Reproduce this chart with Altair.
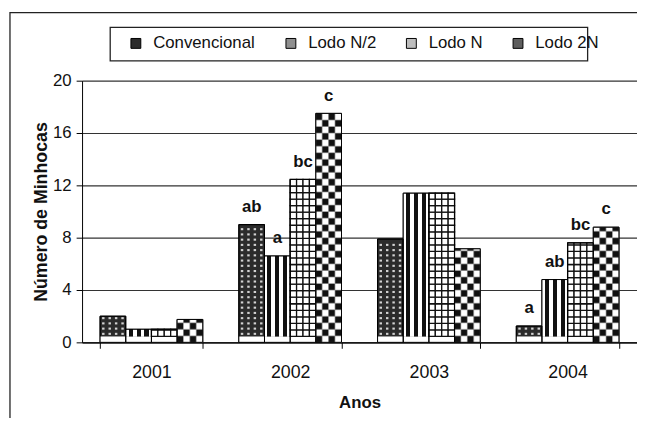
import altair as alt
import pandas as pd

# ---------------- data ----------------
years = ["2001", "2002", "2003", "2004"]
series = ["Convencional", "Lodo N/2", "Lodo N", "Lodo 2N"]
conv = [2.0, 9.0, 7.9, 1.25]
lodo_n2 = [1.0, 6.6, 11.4, 4.8]
lodo_n = [1.0, 12.45, 11.4, 7.6]
lodo_2n = [1.75, 17.5, 7.15, 8.8]
letters_conv = ["", "ab", "", "a"]
letters_n2 = ["", "a", "", "ab"]
letters_n = ["", "bc", "", "bc"]
letters_2n = ["", "c", "", "c"]
y_ticks = [0, 4, 8, 12, 16, 20]

# ---------------- styling constants ----------------
FONT = "Liberation Sans"
legend_grays = ["#2b2b2b", "#8f8f8f", "#bdbdbd", "#5e5e5e"]
bases = [0.45, 0.45, 0.45, 0.0]      # white strip at the foot of the patterned bars
cell_h = 0.5                          # pattern cell height (data units)
dot_h = 0.4
PLOT_W, PLOT_H = 562, 265
PAD_INNER, PAD_OUTER = 0.26, 0.13
GROUP_W = PLOT_W / len(years) * (1 - PAD_INNER)   # width of one year's bar group
BAR_W = GROUP_W / len(series)

values = [conv, lodo_n2, lodo_n, lodo_2n]
letters = [letters_conv, letters_n2, letters_n, letters_2n]

recs = []
for si, s in enumerate(series):
    for yi, yr in enumerate(years):
        recs.append(dict(year=yr, series=s, value=values[si][yi],
                         letter=letters[si][yi], base=bases[si], zero=0.0))
df = pd.DataFrame(recs)

sub_domain = [f"{s}-{c}" for s in range(4) for c in range(4)]


def cells(si, h, ncols):
    out = []
    base = bases[si]
    for yi, yr in enumerate(years):
        v = values[si][yi]
        k = 0
        while base + k * h < v - 1e-9:
            y0 = base + k * h
            y1 = min(base + (k + 1) * h, v)
            for c in range(ncols):
                out.append(dict(year=yr, sub=f"{si}-{c}", y0=y0, y1=y1,
                                dark=bool((k + c) % 2 == 0)))
            k += 1
    return pd.DataFrame(out)


def dots(si, h, ncols):
    out = []
    base = bases[si]
    for yi, yr in enumerate(years):
        v = values[si][yi]
        k = 0
        while True:
            yc = base + (k + 0.5) * h
            if yc + 0.08 > v - 0.05:
                break
            for c in range(ncols):
                out.append(dict(year=yr, dsub=f"{si}-{c}", y0=yc - 0.08, y1=yc + 0.08))
            k += 1
    return pd.DataFrame(out)


grid_df = cells(2, cell_h, 4)
check_df = cells(3, cell_h, 4)
dot_df = dots(0, dot_h, 4)

# ---------------- shared encodings ----------------
xscale = alt.Scale(domain=years, paddingInner=PAD_INNER, paddingOuter=PAD_OUTER)
xaxis = alt.Axis(title="Anos", labelAngle=0, tickBand="extent", tickSize=6,
                 labelPadding=16, labelFontSize=18, labelColor="#111",
                 titleFontSize=17, titleFontWeight="bold", titleColor="#111",
                 titleY=66, titleBaseline="alphabetic",
                 domainColor="black", domainWidth=1.2, tickColor="black", grid=False)
yscale = alt.Scale(domain=[0, 20], nice=False)
yaxis = alt.Axis(title="Número de Minhocas", values=y_ticks, tickSize=6, labelPadding=5,
                 labelFontSize=17, labelColor="#111",
                 titleFontSize=18, titleFontWeight="bold", titleColor="#111",
                 titleAngle=270, titleX=-36, titleY=132.5, titleBaseline="alphabetic",
                 titleAlign="center",
                 domainColor="black", tickColor="black",
                 grid=True, gridColor="#333", gridWidth=1.2)

X = alt.X("year:N", scale=xscale, axis=xaxis, title="Anos")


def Y(field):
    return alt.Y(field, type="quantitative", scale=yscale, axis=yaxis, title="Número de Minhocas")


xo_series = alt.XOffset("series:N", scale=alt.Scale(domain=series, paddingInner=0, paddingOuter=0))
xo_sub = alt.XOffset("sub:N", scale=alt.Scale(domain=sub_domain, paddingInner=0, paddingOuter=0))
xo_dot = alt.XOffset("dsub:N", scale=alt.Scale(domain=sub_domain, paddingInner=0.62, paddingOuter=0.31))

one = pd.DataFrame({"k": [0]})

# decorative outer frame and legend box
frame = alt.Chart(one).mark_rect(fill="white", fillOpacity=0, stroke="#222", strokeWidth=1.3).encode(
    x=alt.value(-73), x2=alt.value(620), y=alt.value(-69), y2=alt.value(360))
legend_box = alt.Chart(one).mark_rect(fill="white", fillOpacity=0, stroke="#222", strokeWidth=1.3).encode(
    x=alt.value(28.5), x2=alt.value(512), y=alt.value(-54), y2=alt.value(-20))

base_bars = alt.Chart(df).mark_bar(stroke="black", strokeWidth=1).encode(
    x=X, xOffset=xo_series, y=Y("value"),
    fill=alt.Fill("series:N", scale=alt.Scale(domain=series, range=legend_grays),
                  legend=alt.Legend(title=None, orient="none", legendX=46, legendY=-46.5,
                                    direction="horizontal", columns=4, columnPadding=27,
                                    labelOffset=9, symbolType="square", symbolSize=100,
                                    symbolStrokeColor="black", symbolStrokeWidth=1,
                                    labelFontSize=17, labelColor="#111", padding=0,
                                    labelFont=FONT)))

white_band = alt.Chart(df).transform_filter("datum.base > 0").mark_bar(fill="white").encode(
    x=X, xOffset=xo_series, y=Y("base"), y2="zero")

stripe_grad = alt.Gradient(
    gradient="linear", x1=0, y1=0, x2=1, y2=0,
    stops=[alt.GradientStop(offset=o, color=c) for o, c in [
        (0, "#fff"), (0.11, "#fff"), (0.11, "#111"), (0.27, "#111"), (0.27, "#fff"),
        (0.42, "#fff"), (0.42, "#111"), (0.58, "#111"), (0.58, "#fff"),
        (0.73, "#fff"), (0.73, "#111"), (0.89, "#111"), (0.89, "#fff"), (1, "#fff")]])

stripes = alt.Chart(df).transform_filter(alt.datum.series == "Lodo N/2").mark_bar(fill=stripe_grad).encode(
    x=X, xOffset=xo_series, y=Y("value"), y2="base")

grid_cells = alt.Chart(grid_df).mark_bar(fill="white", stroke="#111", strokeWidth=1.3).encode(
    x=X, xOffset=xo_sub, y=Y("y0"), y2="y1")

check_cells = alt.Chart(check_df).mark_bar(stroke="#999", strokeWidth=0.5).encode(
    x=X, xOffset=xo_sub, y=Y("y0"), y2="y1",
    fill=alt.condition("datum.dark", alt.value("#111"), alt.value("#fff")))

dot_cells = alt.Chart(dot_df).mark_bar(fill="#d2d2d2").encode(
    x=X, xOffset=xo_dot, y=Y("y0"), y2="y1")

outline = alt.Chart(df).mark_bar(fill="white", fillOpacity=0, stroke="black", strokeWidth=1).encode(
    x=X, xOffset=xo_series, y=Y("value"))

# significance letters: one text layer per series, shifted from the year's band centre
label_layers = []
for si, s in enumerate(series):
    label_layers.append(
        alt.Chart(df).transform_filter(
            (alt.datum.series == s) & (alt.datum.letter != "")
        ).mark_text(fontSize=17, fontWeight="bold", baseline="alphabetic", dy=-13,
                    dx=(si + 0.5 - len(series) / 2) * BAR_W, color="#111", font=FONT
        ).encode(x=X, y=Y("value"), text="letter:N"))

chart = alt.layer(
    frame, legend_box, base_bars, white_band, stripes, grid_cells, check_cells,
    dot_cells, outline, *label_layers
).resolve_scale(xOffset="independent").properties(
    width=PLOT_W, height=PLOT_H,
    padding={"left": 75, "top": 71, "right": 0, "bottom": 74},
    autosize=alt.AutoSizeParams(type="none"),
    background="white",
).configure(font=FONT).configure_view(stroke=None)

chart.save("out.html", embed_options={"renderer": "svg", "actions": False})
